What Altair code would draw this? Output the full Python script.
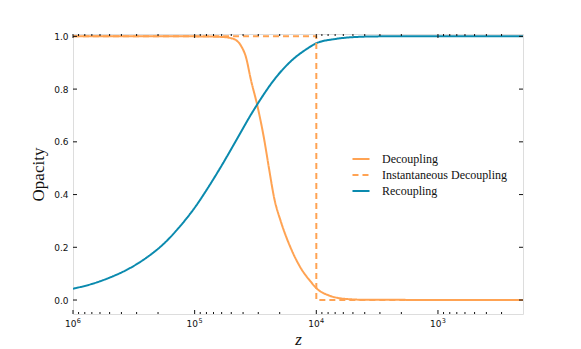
import altair as alt
import pandas as pd

# ---- data ----
dec_z = [1000000, 316228, 100000, 70000, 56234, 50119, 45709, 43152, 40738, 38019,
         34514, 30409, 26792, 24378, 22182, 19543, 16181, 13366, 11220, 9727,
         7943, 6252, 3981, 200]
dec_v = [1.0, 1.0, 1.0, 0.999, 0.997, 0.993, 0.986, 0.975, 0.957, 0.924,
         0.836, 0.734, 0.608, 0.494, 0.386, 0.297, 0.196, 0.120, 0.072, 0.040,
         0.018, 0.006, 0.001, 0.0]

rec_z = [1000000, 700000, 500000, 350000, 250000, 180000, 130000, 100000, 75000,
         60000, 45000, 35000, 30000, 22000, 16000, 12000, 10000, 7000, 5000, 3000, 200]
rec_v = [0.043, 0.061, 0.085, 0.118, 0.160, 0.213, 0.283, 0.350, 0.437,
         0.510, 0.610, 0.698, 0.748, 0.838, 0.908, 0.952, 0.974, 0.990, 0.997, 1.0, 1.0]

inst_z = [1000000, 10000, 10000, 200]
inst_v = [1.0, 1.0, 0.0, 0.0]

series = ["Decoupling", "Instantaneous Decoupling", "Recoupling"]
colors = ["#FFA353", "#FFA353", "#0A8AAE"]
dashes = [[1, 0], [6, 4], [1, 0]]

x_major = [1000000, 100000, 10000, 1000]
x_exp = ["6", "5", "4", "3"]
x_minor = [900000, 800000, 700000, 600000, 500000, 400000, 300000, 200000,
           90000, 80000, 70000, 60000, 50000, 40000, 30000, 20000,
           9000, 8000, 7000, 6000, 5000, 4000, 3000, 2000,
           900, 800, 700, 600, 500, 400, 300]
y_major = [0.0, 0.2, 0.4, 0.6, 0.8, 1.0]

W, H = 450, 280
FRAME = "#111111"
TXT = "#111111"

smooth = pd.DataFrame({
    "z": dec_z + rec_z,
    "v": dec_v + rec_v,
    "series": ["Decoupling"] * len(dec_z) + ["Recoupling"] * len(rec_z),
})
step = pd.DataFrame({
    "z": inst_z, "v": inst_v,
    "series": ["Instantaneous Decoupling"] * len(inst_z),
    "o": list(range(len(inst_z))),
})

xscale = alt.Scale(type="log", domain=[200, 1000000], reverse=True)
yscale = alt.Scale(domain=[-0.053, 1.009], nice=False, zero=False)

xaxis = alt.Axis(values=x_major, labels=False, title="z", grid=False,
                 ticks=False, tickSize=0, domain=False,
                 titleFont="Liberation Serif",
                 titleFontStyle="italic", titleFontWeight="normal", titleFontSize=17,
                 titleColor=TXT, titleX=W / 2, titleY=30, titleBaseline="alphabetic",
                 titleAlign="center")
yaxis = alt.Axis(values=y_major, format=".1f", title="Opacity", grid=False,
                 ticks=False, tickSize=0, domain=False, labelFlush=False,
                 labelPadding=5, labelFont="DejaVu Sans", labelFontSize=9,
                 labelColor=TXT, titleFont="Liberation Serif", titleFontWeight="normal",
                 titleFontSize=17, titleColor=TXT, titleAngle=-90, titleX=-35,
                 titleY=H / 2, titleAlign="center", titleBaseline="middle")

leg = dict(title=None, orient="none", legendX=278, legendY=115,
           symbolType="stroke", symbolSize=290, symbolStrokeWidth=2,
           labelFont="Liberation Serif", labelFontSize=12, labelColor=TXT,
           labelOffset=11, rowPadding=0, padding=0)
color = alt.Color("series:N", scale=alt.Scale(domain=series, range=colors),
                  legend=alt.Legend(**leg))
dash = alt.StrokeDash("series:N", scale=alt.Scale(domain=series, range=dashes),
                      legend=alt.Legend(**leg))

lines = alt.Chart(smooth).mark_line(strokeWidth=2, clip=True, interpolate="monotone").encode(
    x=alt.X("z:Q", scale=xscale, axis=xaxis),
    y=alt.Y("v:Q", scale=yscale, axis=yaxis),
    color=color, strokeDash=dash,
    order=alt.Order("z:Q", sort="descending"),
)
steps = alt.Chart(step).mark_line(strokeWidth=2, clip=True).encode(
    x=alt.X("z:Q", scale=xscale), y=alt.Y("v:Q", scale=yscale),
    color=color, strokeDash=dash, order=alt.Order("o:Q"),
)

xmaj = pd.DataFrame({"z": x_major, "e": x_exp})
xmin = pd.DataFrame({"z": x_minor})
ymaj = pd.DataFrame({"v": y_major})

def xt(df, y0, y1):
    return alt.Chart(df).mark_rule(color=FRAME, strokeWidth=1).encode(
        x=alt.X("z:Q", scale=xscale), y=alt.value(y0), y2=alt.value(y1))

def yt(x0, x1):
    return alt.Chart(ymaj).mark_rule(color=FRAME, strokeWidth=1).encode(
        y=alt.Y("v:Q", scale=yscale), x=alt.value(x0), x2=alt.value(x1))

base_lab = alt.Chart(xmaj).mark_text(
    font="DejaVu Sans", fontSize=9, color=TXT, align="right", baseline="alphabetic",
    dx=3.4).encode(x=alt.X("z:Q", scale=xscale), y=alt.value(H + 12.7),
                   text=alt.value("10"))
exp_lab = alt.Chart(xmaj).mark_text(
    font="DejaVu Sans", fontSize=6.5, color=TXT, align="left", baseline="alphabetic",
    dx=3.8).encode(x=alt.X("z:Q", scale=xscale), y=alt.value(H + 8.6),
                   text="e:N")

chart = alt.layer(
    lines, steps,
    xt(xmaj, H, H - 4), xt(xmaj, 0, 4), xt(xmin, H, H - 2), xt(xmin, 0, 2),
    yt(0, 4), yt(W - 4, W), base_lab, exp_lab,
).properties(
    width=W, height=H,
    autosize=alt.AutoSizeParams(type="none"),
    padding={"left": 65, "top": 26, "right": 40, "bottom": 36},
).configure_view(stroke=FRAME, strokeWidth=1).configure(background="white")

chart.save("out.html", embed_options={"renderer": "svg", "actions": False})
